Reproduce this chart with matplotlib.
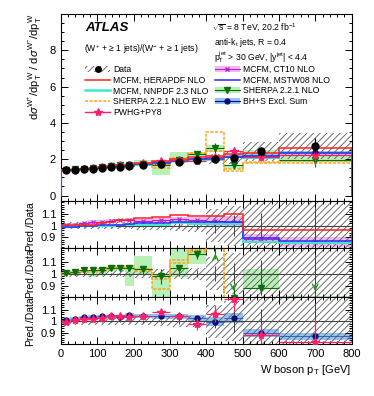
import numpy as np
import matplotlib
matplotlib.use("Agg")
import matplotlib.pyplot as plt
from matplotlib.patches import Patch
from matplotlib.lines import Line2D
from matplotlib.ticker import MultipleLocator

plt.rcParams['font.family'] = ['Liberation Sans', 'DejaVu Sans']
plt.rcParams['mathtext.fontset'] = 'custom'
plt.rcParams['mathtext.rm'] = 'Liberation Sans'
plt.rcParams['mathtext.it'] = 'Liberation Sans:italic'
plt.rcParams['hatch.linewidth'] = 0.6

# W boson pT bins [GeV]
bin_edges = np.array([0, 25, 50, 75, 100, 125, 150, 175, 200, 250, 300, 350, 400, 450, 500, 600, 800])

# measured W+/W- ratio
data_ratio = np.array([1.42, 1.42, 1.44, 1.47, 1.51, 1.55, 1.59, 1.62, 1.69, 1.75, 1.84, 1.95, 2.00, 2.08, 2.43, 2.72])
data_stat_rel = np.array([0.008] * 8 + [0.01, 0.015, 0.02, 0.03, 0.06, 0.09, 0.11, 0.16])
data_tot_rel = np.array([0.03] * 8 + [0.035, 0.04, 0.045, 0.05, 0.14, 0.17, 0.22, 0.26])

# predictions divided by data
mcfm_hera = np.array([1.005, 1.005, 1.01, 1.01, 1.02, 1.035, 1.045, 1.05, 1.065, 1.075, 1.095, 1.085, 1.08, 1.10, 0.963, 0.963])
mcfm_nnpdf = np.array([0.99, 0.995, 1.0, 1.0, 1.0, 1.0, 1.005, 1.01, 1.01, 1.01, 1.02, 1.015, 1.015, 1.015, 0.86, 0.855])
mcfm_mstw = np.array([0.985, 0.99, 1.0, 1.0, 1.005, 1.01, 1.01, 1.015, 1.02, 1.025, 1.035, 1.03, 1.03, 1.03, 0.892, 0.872])
mcfm_ct10 = np.array([1.01, 1.01, 1.02, 1.03, 1.035, 1.04, 1.045, 1.05, 1.04, 1.045, 1.055, 1.045, 1.04, 1.035, 0.89, 0.86])
mcfm_ct10_unc = np.array([0.015] * 8 + [0.02, 0.02, 0.02, 0.03, 0.04, 0.045, 0.04, 0.045])

sherpa_nlo = np.array([1.006, 1.017, 1.03, 1.03, 1.03, 1.05, 1.05, 1.05, 1.034, 0.977, 1.05, 1.16, 1.30, 0.80, 0.88, 0.72])
sherpa_nlo_err = np.array([0.005] * 8 + [0.01, 0.06, 0.02, 0.04, 0.15, 0.1, 0.06, 0.15])
sherpa_band_lo = np.array([0.995, 1.0, 1.01, 0.975, 1.0, 1.02, 1.03, 0.90, 1.0, 0.65, 0.97, 1.08, 1.20, 0.70, 0.87, 0.68])
sherpa_band_hi = np.array([1.015, 1.02, 1.03, 1.01, 1.03, 1.06, 1.06, 1.07, 1.145, 1.0, 1.31, 1.22, 1.38, 0.80, 1.04, 0.81])

sherpa_ew_lo = np.array([1.0, 1.005, 1.015, 1.015, 1.025, 1.035, 1.05, 1.05, 1.025, 0.875, 1.09, 1.18, 1.22, 0.66, 0.74, 0.66])
sherpa_ew_hi = np.array([1.005, 1.015, 1.025, 1.025, 1.035, 1.045, 1.065, 1.065, 1.04, 0.955, 1.11, 1.20, 1.75, 0.70, 0.77, 0.69])

pwhg = np.array([0.995, 1.01, 1.023, 1.023, 1.032, 1.043, 1.043, 1.038, 1.046, 1.08, 1.05, 0.98, 1.066, 1.19, 0.88, 0.82])
pwhg_err = np.array([0.01] * 8 + [0.015, 0.02, 0.02, 0.05, 0.07, 0.1, 0.1, 0.2])

bhs = np.array([1.01, 1.023, 1.035, 1.04, 1.043, 1.043, 1.038, 1.058, 1.045, 1.043, 1.043, 1.026, 0.998, 1.03, 0.90, 0.875])
bhs_unc = np.array([0.015] * 8 + [0.02, 0.02, 0.02, 0.025, 0.04, 0.04, 0.035, 0.03])

c_red = '#ff2020'
c_cyan = '#3ee8d0'
c_blue = '#2a2aff'
c_mag = '#bb22cc'
c_ct10_band = '#f2b8f2'
c_orange = '#ffa31a'
c_green = '#0a6e0a'
c_green_band = '#b8f0b8'
c_pink = '#ff1f6a'
c_navy = '#0a0a78'
c_blue_band = '#93c4ef'
c_hatch = '#5a5a5a'

centers = 0.5 * (bin_edges[:-1] + bin_edges[1:])
halfw = 0.5 * (bin_edges[1:] - bin_edges[:-1])

fig = plt.figure(figsize=(3.74, 3.96), dpi=100)
left, width = 0.163, 0.777
ax_main = fig.add_axes([left, 0.4924, width, 0.4722])
ax_r1 = fig.add_axes([left, 0.373, width, 0.1194], sharex=ax_main)
ax_r2 = fig.add_axes([left, 0.2508, width, 0.1222], sharex=ax_main)
ax_r3 = fig.add_axes([left, 0.1313, width, 0.1195], sharex=ax_main)


def draw_data(ax, scale, in_ratio):
    ax.stairs(scale * (1 + data_tot_rel), bin_edges, baseline=scale * (1 - data_tot_rel), fill=True,
              facecolor='none', edgecolor=c_hatch, hatch='/////', linewidth=0, zorder=1)
    if in_ratio:
        ax.axhline(1.0, color='#444444', lw=0.8, zorder=2)
        ax.errorbar(centers, np.ones_like(centers), yerr=data_stat_rel, fmt='none',
                    ecolor='#444444', elinewidth=0.7, zorder=2)


def draw_mcfm(ax, scale):
    ax.stairs(scale * (mcfm_ct10 + mcfm_ct10_unc), bin_edges, baseline=scale * (mcfm_ct10 - mcfm_ct10_unc),
              fill=True, color=c_ct10_band, lw=0, zorder=0.5)
    ax.stairs(scale * mcfm_ct10, bin_edges, color=c_mag, lw=0.8, zorder=3)
    ax.plot(centers, scale * mcfm_ct10, ls='none', marker='x', ms=3.5, mew=0.8, color=c_mag, zorder=3)
    ax.stairs(scale * mcfm_nnpdf, bin_edges, color=c_cyan, lw=1.4, zorder=3)
    ax.stairs(scale * mcfm_mstw, bin_edges, color=c_blue, lw=1.1, zorder=3.1)
    ax.stairs(scale * mcfm_hera, bin_edges, color=c_red, lw=1.1, zorder=3.2)


def draw_sherpa(ax, scale):
    ax.stairs(scale * sherpa_band_hi, bin_edges, baseline=scale * sherpa_band_lo, fill=True,
              color=c_green_band, lw=0, zorder=0.4)
    ax.stairs(scale * sherpa_ew_lo, bin_edges, color=c_orange, lw=1.1, ls=(0, (2, 1)), zorder=3)
    ax.stairs(scale * sherpa_ew_hi, bin_edges, color=c_orange, lw=1.1, ls=(0, (2, 1)), zorder=3)
    ax.errorbar(centers, scale * sherpa_nlo, xerr=halfw, yerr=scale * sherpa_nlo_err, fmt='v', ms=4,
                color=c_green, elinewidth=0.8, zorder=4)


def draw_pwhg_bhs(ax, scale):
    ax.stairs(scale * (bhs + bhs_unc), bin_edges, baseline=scale * (bhs - bhs_unc), fill=True,
              color=c_blue_band, lw=0, zorder=0.6)
    ax.errorbar(centers, scale * bhs, xerr=halfw, fmt='o', ms=3.5, color=c_navy, elinewidth=0.6,
                ecolor='#3050c0', zorder=4)
    ax.errorbar(centers, scale * pwhg, xerr=halfw, yerr=scale * pwhg_err, fmt='*', ms=6,
                color=c_pink, elinewidth=0.9, zorder=4.5)


# main panel
draw_data(ax_main, data_ratio, False)
draw_mcfm(ax_main, data_ratio)
draw_sherpa(ax_main, data_ratio)
draw_pwhg_bhs(ax_main, data_ratio)
ax_main.errorbar(centers, data_ratio, yerr=data_ratio * data_stat_rel, fmt='o', ms=5,
                 color='black', elinewidth=0.9, zorder=6)
ax_main.set_ylim(-0.3, 10)
ax_main.set_yticks([0, 2, 4, 6, 8])
ax_main.yaxis.set_minor_locator(MultipleLocator(0.5))
ax_main.set_ylabel(r'd$\sigma^{\mathrm{W^{+}}}$/dp$_{\mathrm{T}}^{\mathrm{W}}$ / d$\sigma^{\mathrm{W^{-}}}$/dp$_{\mathrm{T}}^{\mathrm{W}}$',
                   loc='top', fontsize=8, labelpad=4)

# ratio panels
draw_data(ax_r1, 1.0, True)
draw_mcfm(ax_r1, 1.0)
draw_data(ax_r2, 1.0, True)
draw_sherpa(ax_r2, 1.0)
draw_data(ax_r3, 1.0, True)
draw_pwhg_bhs(ax_r3, 1.0)

rlo, rhi = 0.807, 1.211
for i in range(len(centers)):
    if sherpa_nlo[i] > rhi:
        ax_r2.annotate('', xy=(centers[i], 1.19), xytext=(centers[i], 1.1),
                       arrowprops=dict(arrowstyle='->', color='#1a9a1a', lw=1.0), zorder=5)
    elif sherpa_nlo[i] < rlo:
        ax_r2.annotate('', xy=(centers[i], 0.83), xytext=(centers[i], 0.92),
                       arrowprops=dict(arrowstyle='->', color='#1a9a1a', lw=1.0), zorder=5)

for ax in (ax_r1, ax_r2, ax_r3):
    ax.set_ylim(rlo, rhi)
    ax.set_yticks([0.9, 1.0, 1.1], ['0.9', '1', '1.1'])
    ax.yaxis.set_minor_locator(MultipleLocator(0.02))
    ax.set_ylabel('Pred./Data', loc='top', fontsize=7.5, labelpad=4)
    ax.tick_params(axis='y', labelsize=7)

for ax in (ax_main, ax_r1, ax_r2, ax_r3):
    ax.set_xlim(0, 800)
    ax.xaxis.set_major_locator(MultipleLocator(100))
    ax.xaxis.set_minor_locator(MultipleLocator(20))
    ax.tick_params(which='both', direction='in', top=True, right=True, labelsize=8, width=0.7)
    ax.tick_params(which='major', length=5)
    ax.tick_params(which='minor', length=2.5)
    for sp in ax.spines.values():
        sp.set_linewidth(0.8)
for ax in (ax_main, ax_r1, ax_r2):
    ax.tick_params(labelbottom=False)
ax_main.tick_params(axis='y', labelsize=8)
ax_r3.set_xlabel(r'W boson p$_{\mathrm{T}}$ [GeV]', loc='right', fontsize=8, labelpad=3)

# labels
ax_main.text(0.083, 0.925, 'ATLAS', transform=ax_main.transAxes, fontsize=9.5, fontweight='bold',
             fontstyle='italic', va='center')
ax_main.text(0.079, 0.813, r'(W$^{+}$ + ≥ 1 jets)/(W$^{-}$ + ≥ 1 jets)', transform=ax_main.transAxes,
             fontsize=6.2, va='center')
ax_main.text(0.52, 0.925, r'$\sqrt{\mathrm{s}}$ = 8 TeV, 20.2 fb$^{\mathrm{-1}}$', transform=ax_main.transAxes,
             fontsize=6.2, va='center')
ax_main.text(0.528, 0.85, r'anti-k$_{\mathrm{t}}$ jets, R = 0.4', transform=ax_main.transAxes,
             fontsize=6.2, va='center')
ax_main.text(0.528, 0.77, r'p$_{\mathrm{T}}^{\mathrm{jet}}$ > 30 GeV, |y$^{\mathrm{jet}}$| < 4.4',
             transform=ax_main.transAxes, fontsize=6.2, va='center')

# legends
h_data = (Patch(facecolor='none', edgecolor=c_hatch, hatch='/////', lw=0),
          Line2D([], [], ls='none', marker='o', ms=4, color='black'))
h_hera = Line2D([], [], color=c_red, lw=1.1)
h_nnpdf = Line2D([], [], color=c_cyan, lw=1.8)
h_ew = Line2D([], [], color=c_orange, lw=1.1, ls=(0, (2, 1)))
h_pwhg = Line2D([], [], color=c_pink, lw=1.0, marker='*', ms=6)
h_ct10 = (Patch(color=c_ct10_band, lw=0), Line2D([], [], color=c_mag, lw=0.8, marker='x', ms=3.5))
h_mstw = Line2D([], [], color=c_blue, lw=1.1)
h_sherpa = (Patch(color=c_green_band, lw=0), Line2D([], [], color=c_green, lw=0.8, marker='v', ms=4))
h_bhs = (Patch(color=c_blue_band, lw=0), Line2D([], [], color=c_navy, lw=0.8, marker='o', ms=3.5))

leg_kw = dict(frameon=False, fontsize=6.2, handlelength=2.9, handletextpad=0.35,
              labelspacing=0.2, borderpad=0, borderaxespad=0, loc='upper left')
leg1 = ax_main.legend([h_data, h_hera, h_nnpdf, h_ew, h_pwhg],
                      ['Data', 'MCFM, HERAPDF NLO', 'MCFM, NNPDF 2.3 NLO', 'SHERPA 2.2.1 NLO EW', 'PWHG+PY8'],
                      bbox_to_anchor=(0.083, 0.728), **leg_kw)
ax_main.add_artist(leg1)
ax_main.legend([h_ct10, h_mstw, h_sherpa, h_bhs],
               ['MCFM, CT10 NLO', 'MCFM, MSTW08 NLO', 'SHERPA 2.2.1 NLO', 'BH+S Excl. Sum'],
               bbox_to_anchor=(0.53, 0.728), **leg_kw)

fig.savefig('out.png', dpi=100)
